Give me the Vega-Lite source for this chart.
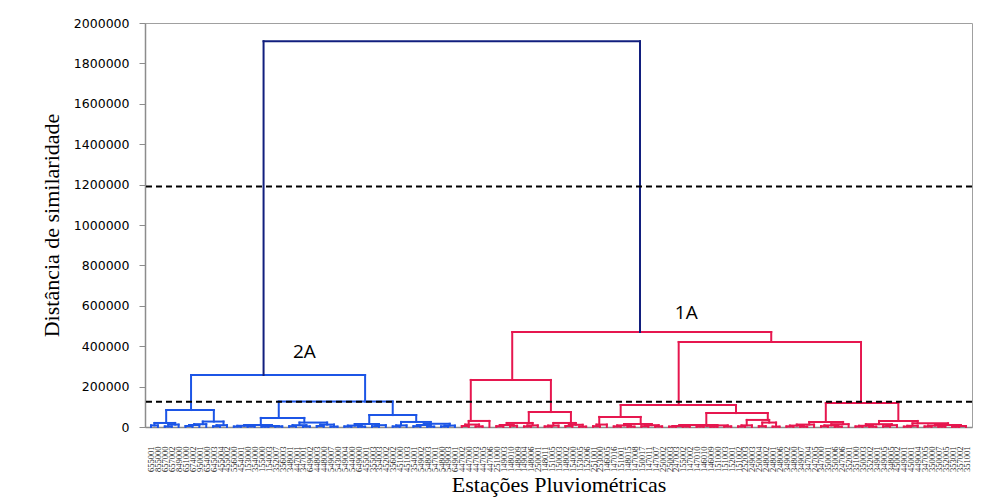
{
  "$schema": "https://vega.github.io/schema/vega-lite/v6.json",
  "width": 827,
  "height": 404,
  "autosize": {"type": "none"},
  "padding": {"left": 145, "top": 23, "right": 13, "bottom": 72},
  "background": "white",
  "config": {
    "view": {"stroke": "#a0a0a0", "strokeWidth": 1},
    "axis": {"grid": false},
    "axisY": {
      "labelFont": "DejaVu Sans", "labelFontSize": 12.5, "labelColor": "black",
      "labelPadding": 10, "tickSize": 6, "tickColor": "#8c8c8c", "domainColor": "#8c8c8c", "domainWidth": 1.5,
      "titleFont": "Liberation Serif", "titleFontSize": 22, "titleFontWeight": "normal",
      "titleColor": "black", "titlePadding": 10
    }
  },
  "datasets": {
    "leaves": [
      {"id": "655001"}, {"id": "855000"}, {"id": "657000"}, {"id": "657002"}, {"id": "849000"},
      {"id": "651000"}, {"id": "674002"}, {"id": "950001"}, {"id": "654000"}, {"id": "645003"},
      {"id": "455004"}, {"id": "455002"}, {"id": "556000"}, {"id": "454001"}, {"id": "153000"},
      {"id": "354000"}, {"id": "155000"}, {"id": "154003"}, {"id": "352007"}, {"id": "356003"},
      {"id": "348001"}, {"id": "447001"}, {"id": "347001"}, {"id": "649002"}, {"id": "448003"},
      {"id": "448000"}, {"id": "549007"}, {"id": "543000"}, {"id": "549004"}, {"id": "544000"},
      {"id": "649000"}, {"id": "455001"}, {"id": "355003"}, {"id": "354003"}, {"id": "452002"},
      {"id": "356002"}, {"id": "451000"}, {"id": "451003"}, {"id": "354001"}, {"id": "549002"},
      {"id": "548003"}, {"id": "547001"}, {"id": "548000"}, {"id": "549003"}, {"id": "649001"},
      {"id": "447002"}, {"id": "447000"}, {"id": "447003"}, {"id": "447005"}, {"id": "447006"},
      {"id": "251000"}, {"id": "149003"}, {"id": "148010"}, {"id": "148009"}, {"id": "149004"},
      {"id": "148006"}, {"id": "250001"}, {"id": "148011"}, {"id": "151005"}, {"id": "150003"},
      {"id": "148002"}, {"id": "154000"}, {"id": "153005"}, {"id": "152006"}, {"id": "251001"},
      {"id": "253000"}, {"id": "146005"}, {"id": "147016"}, {"id": "151001"}, {"id": "148015"},
      {"id": "147008"}, {"id": "150017"}, {"id": "147011"}, {"id": "147007"}, {"id": "250002"},
      {"id": "250003"}, {"id": "247003"}, {"id": "155002"}, {"id": "147002"}, {"id": "147010"},
      {"id": "146010"}, {"id": "146009"}, {"id": "151000"}, {"id": "151003"}, {"id": "152001"},
      {"id": "151002"}, {"id": "252003"}, {"id": "249003"}, {"id": "250004"}, {"id": "248002"},
      {"id": "248001"}, {"id": "248006"}, {"id": "349002"}, {"id": "348000"}, {"id": "349007"},
      {"id": "347004"}, {"id": "247005"}, {"id": "347000"}, {"id": "350001"}, {"id": "350006"},
      {"id": "247006"}, {"id": "352001"}, {"id": "351000"}, {"id": "350003"}, {"id": "352002"},
      {"id": "349001"}, {"id": "349005"}, {"id": "348005"}, {"id": "450002"}, {"id": "449001"},
      {"id": "450001"}, {"id": "449004"}, {"id": "347005"}, {"id": "350000"}, {"id": "350007"},
      {"id": "352005"}, {"id": "353001"}, {"id": "357002"}, {"id": "351001"}
    ],
    "merges": [
      {"g": "2A", "xl": 1, "xr": 2, "hl": 0, "hr": 0, "h": 8000},
      {"g": "2A", "xl": 3, "xr": 4, "hl": 0, "hr": 0, "h": 3000},
      {"g": "2A", "xl": 3.5, "xr": 5, "hl": 3000, "hr": 0, "h": 12000},
      {"g": "2A", "xl": 1.5, "xr": 4.5, "hl": 8000, "hr": 12000, "h": 20000},
      {"g": "2A", "xl": 6, "xr": 7, "hl": 0, "hr": 0, "h": 5000},
      {"g": "2A", "xl": 6.5, "xr": 8, "hl": 5000, "hr": 0, "h": 10000},
      {"g": "2A", "xl": 7.25, "xr": 9, "hl": 10000, "hr": 0, "h": 14000},
      {"g": "2A", "xl": 10, "xr": 11, "hl": 0, "hr": 0, "h": 4000},
      {"g": "2A", "xl": 10.5, "xr": 12, "hl": 4000, "hr": 0, "h": 9000},
      {"g": "2A", "xl": 8.5, "xr": 11.5, "hl": 14000, "hr": 9000, "h": 27000},
      {"g": "2A", "xl": 3.2, "xr": 10.1, "hl": 20000, "hr": 27000, "h": 84000},
      {"g": "2A", "xl": 13, "xr": 14, "hl": 0, "hr": 0, "h": 2500},
      {"g": "2A", "xl": 15, "xr": 16, "hl": 0, "hr": 0, "h": 3500},
      {"g": "2A", "xl": 13.5, "xr": 15.5, "hl": 2500, "hr": 3500, "h": 6000},
      {"g": "2A", "xl": 17, "xr": 18, "hl": 0, "hr": 0, "h": 2000},
      {"g": "2A", "xl": 19, "xr": 20, "hl": 0, "hr": 0, "h": 3000},
      {"g": "2A", "xl": 17.5, "xr": 19.5, "hl": 2000, "hr": 3000, "h": 5000},
      {"g": "2A", "xl": 14.5, "xr": 18.5, "hl": 6000, "hr": 5000, "h": 10000},
      {"g": "2A", "xl": 21, "xr": 22, "hl": 0, "hr": 0, "h": 4000},
      {"g": "2A", "xl": 23, "xr": 24, "hl": 0, "hr": 0, "h": 3000},
      {"g": "2A", "xl": 21.5, "xr": 23.5, "hl": 4000, "hr": 3000, "h": 9000},
      {"g": "2A", "xl": 25, "xr": 26, "hl": 0, "hr": 0, "h": 5000},
      {"g": "2A", "xl": 27, "xr": 28, "hl": 0, "hr": 0, "h": 2000},
      {"g": "2A", "xl": 25.5, "xr": 27.5, "hl": 5000, "hr": 2000, "h": 12000},
      {"g": "2A", "xl": 22.5, "xr": 26.5, "hl": 9000, "hr": 12000, "h": 22000},
      {"g": "2A", "xl": 16.9, "xr": 23.2, "hl": 10000, "hr": 22000, "h": 45000},
      {"g": "2A", "xl": 29, "xr": 30, "hl": 0, "hr": 0, "h": 3000},
      {"g": "2A", "xl": 31, "xr": 32, "hl": 0, "hr": 0, "h": 2000},
      {"g": "2A", "xl": 29.5, "xr": 31.5, "hl": 3000, "hr": 2000, "h": 7000},
      {"g": "2A", "xl": 33, "xr": 34, "hl": 0, "hr": 0, "h": 4000},
      {"g": "2A", "xl": 33.5, "xr": 35, "hl": 4000, "hr": 0, "h": 9000},
      {"g": "2A", "xl": 30.5, "xr": 34, "hl": 7000, "hr": 9000, "h": 15000},
      {"g": "2A", "xl": 36, "xr": 37, "hl": 0, "hr": 0, "h": 3000},
      {"g": "2A", "xl": 36.5, "xr": 38, "hl": 3000, "hr": 0, "h": 8000},
      {"g": "2A", "xl": 39, "xr": 40, "hl": 0, "hr": 0, "h": 4000},
      {"g": "2A", "xl": 41, "xr": 42, "hl": 0, "hr": 0, "h": 2000},
      {"g": "2A", "xl": 39.5, "xr": 41.5, "hl": 4000, "hr": 2000, "h": 10000},
      {"g": "2A", "xl": 43, "xr": 44, "hl": 0, "hr": 0, "h": 3000},
      {"g": "2A", "xl": 43.5, "xr": 45, "hl": 3000, "hr": 0, "h": 7000},
      {"g": "2A", "xl": 40.5, "xr": 44.25, "hl": 10000, "hr": 7000, "h": 16000},
      {"g": "2A", "xl": 37.2, "xr": 41.5, "hl": 8000, "hr": 16000, "h": 25000},
      {"g": "2A", "xl": 32.6, "xr": 39.4, "hl": 15000, "hr": 25000, "h": 59000},
      {"g": "2A", "xl": 19.5, "xr": 36, "hl": 45000, "hr": 59000, "h": 126000},
      {"g": "2A", "xl": 6.8, "xr": 32, "hl": 84000, "hr": 126000, "h": 257000},
      {"g": "1A", "xl": 46, "xr": 47, "hl": 0, "hr": 0, "h": 5000},
      {"g": "1A", "xl": 48, "xr": 49, "hl": 0, "hr": 0, "h": 3000},
      {"g": "1A", "xl": 46.5, "xr": 48.5, "hl": 5000, "hr": 3000, "h": 12000},
      {"g": "1A", "xl": 47, "xr": 50, "hl": 12000, "hr": 0, "h": 30000},
      {"g": "1A", "xl": 51, "xr": 52, "hl": 0, "hr": 0, "h": 4000},
      {"g": "1A", "xl": 53, "xr": 54, "hl": 0, "hr": 0, "h": 6000},
      {"g": "1A", "xl": 51.5, "xr": 53.5, "hl": 4000, "hr": 6000, "h": 10000},
      {"g": "1A", "xl": 55, "xr": 56, "hl": 0, "hr": 0, "h": 3000},
      {"g": "1A", "xl": 55.5, "xr": 57, "hl": 3000, "hr": 0, "h": 8000},
      {"g": "1A", "xl": 52.5, "xr": 56.25, "hl": 10000, "hr": 8000, "h": 20000},
      {"g": "1A", "xl": 58, "xr": 59, "hl": 0, "hr": 0, "h": 3000},
      {"g": "1A", "xl": 58.5, "xr": 60, "hl": 3000, "hr": 0, "h": 7000},
      {"g": "1A", "xl": 61, "xr": 62, "hl": 0, "hr": 0, "h": 5000},
      {"g": "1A", "xl": 63, "xr": 64, "hl": 0, "hr": 0, "h": 2000},
      {"g": "1A", "xl": 61.5, "xr": 63.5, "hl": 5000, "hr": 2000, "h": 11000},
      {"g": "1A", "xl": 59.25, "xr": 62.5, "hl": 7000, "hr": 11000, "h": 20000},
      {"g": "1A", "xl": 55.7, "xr": 61.8, "hl": 20000, "hr": 20000, "h": 74000},
      {"g": "1A", "xl": 47.3, "xr": 58.9, "hl": 30000, "hr": 74000, "h": 233000},
      {"g": "1A", "xl": 65, "xr": 66, "hl": 0, "hr": 0, "h": 4000},
      {"g": "1A", "xl": 65.5, "xr": 67, "hl": 4000, "hr": 0, "h": 12000},
      {"g": "1A", "xl": 68, "xr": 69, "hl": 0, "hr": 0, "h": 3000},
      {"g": "1A", "xl": 70, "xr": 71, "hl": 0, "hr": 0, "h": 2000},
      {"g": "1A", "xl": 68.5, "xr": 70.5, "hl": 3000, "hr": 2000, "h": 8000},
      {"g": "1A", "xl": 72, "xr": 73, "hl": 0, "hr": 0, "h": 4000},
      {"g": "1A", "xl": 74, "xr": 75, "hl": 0, "hr": 0, "h": 3000},
      {"g": "1A", "xl": 72.5, "xr": 74.5, "hl": 4000, "hr": 3000, "h": 9000},
      {"g": "1A", "xl": 69.5, "xr": 73.5, "hl": 8000, "hr": 9000, "h": 15000},
      {"g": "1A", "xl": 65.9, "xr": 71.9, "hl": 12000, "hr": 15000, "h": 50000},
      {"g": "1A", "xl": 76, "xr": 77, "hl": 0, "hr": 0, "h": 2000},
      {"g": "1A", "xl": 78, "xr": 79, "hl": 0, "hr": 0, "h": 3000},
      {"g": "1A", "xl": 76.5, "xr": 78.5, "hl": 2000, "hr": 3000, "h": 5000},
      {"g": "1A", "xl": 80, "xr": 81, "hl": 0, "hr": 0, "h": 2500},
      {"g": "1A", "xl": 82, "xr": 83, "hl": 0, "hr": 0, "h": 1500},
      {"g": "1A", "xl": 80.5, "xr": 82.5, "hl": 2500, "hr": 1500, "h": 6000},
      {"g": "1A", "xl": 84, "xr": 85, "hl": 0, "hr": 0, "h": 3000},
      {"g": "1A", "xl": 81.5, "xr": 84.5, "hl": 6000, "hr": 3000, "h": 8000},
      {"g": "1A", "xl": 77.5, "xr": 83, "hl": 5000, "hr": 8000, "h": 10000},
      {"g": "1A", "xl": 86, "xr": 87, "hl": 0, "hr": 0, "h": 3000},
      {"g": "1A", "xl": 86.5, "xr": 88, "hl": 3000, "hr": 0, "h": 8000},
      {"g": "1A", "xl": 89, "xr": 90, "hl": 0, "hr": 0, "h": 4000},
      {"g": "1A", "xl": 91, "xr": 92, "hl": 0, "hr": 0, "h": 2000},
      {"g": "1A", "xl": 89.5, "xr": 91.5, "hl": 4000, "hr": 2000, "h": 22000},
      {"g": "1A", "xl": 87.25, "xr": 90.5, "hl": 8000, "hr": 22000, "h": 35000},
      {"g": "1A", "xl": 81.4, "xr": 90.3, "hl": 10000, "hr": 35000, "h": 69000},
      {"g": "1A", "xl": 69, "xr": 85.7, "hl": 50000, "hr": 69000, "h": 109000},
      {"g": "1A", "xl": 93, "xr": 94, "hl": 0, "hr": 0, "h": 3000},
      {"g": "1A", "xl": 95, "xr": 96, "hl": 0, "hr": 0, "h": 2000},
      {"g": "1A", "xl": 93.5, "xr": 95.5, "hl": 3000, "hr": 2000, "h": 7000},
      {"g": "1A", "xl": 94.5, "xr": 97, "hl": 7000, "hr": 0, "h": 12000},
      {"g": "1A", "xl": 98, "xr": 99, "hl": 0, "hr": 0, "h": 4000},
      {"g": "1A", "xl": 100, "xr": 101, "hl": 0, "hr": 0, "h": 2000},
      {"g": "1A", "xl": 98.5, "xr": 100.5, "hl": 4000, "hr": 2000, "h": 8000},
      {"g": "1A", "xl": 99.5, "xr": 102, "hl": 8000, "hr": 0, "h": 14000},
      {"g": "1A", "xl": 96.3, "xr": 101.2, "hl": 12000, "hr": 14000, "h": 25000},
      {"g": "1A", "xl": 103, "xr": 104, "hl": 0, "hr": 0, "h": 3000},
      {"g": "1A", "xl": 105, "xr": 106, "hl": 0, "hr": 0, "h": 2000},
      {"g": "1A", "xl": 103.5, "xr": 105.5, "hl": 3000, "hr": 2000, "h": 6000},
      {"g": "1A", "xl": 107, "xr": 108, "hl": 0, "hr": 0, "h": 4000},
      {"g": "1A", "xl": 107.5, "xr": 109, "hl": 4000, "hr": 0, "h": 9000},
      {"g": "1A", "xl": 104.5, "xr": 108.25, "hl": 6000, "hr": 9000, "h": 14000},
      {"g": "1A", "xl": 110, "xr": 111, "hl": 0, "hr": 0, "h": 2000},
      {"g": "1A", "xl": 110.5, "xr": 112, "hl": 2000, "hr": 0, "h": 6000},
      {"g": "1A", "xl": 113, "xr": 114, "hl": 0, "hr": 0, "h": 3000},
      {"g": "1A", "xl": 115, "xr": 116, "hl": 0, "hr": 0, "h": 2000},
      {"g": "1A", "xl": 113.5, "xr": 115.5, "hl": 3000, "hr": 2000, "h": 7000},
      {"g": "1A", "xl": 117, "xr": 118, "hl": 0, "hr": 0, "h": 1500},
      {"g": "1A", "xl": 117.5, "xr": 119, "hl": 1500, "hr": 0, "h": 5000},
      {"g": "1A", "xl": 114.5, "xr": 118.25, "hl": 7000, "hr": 5000, "h": 10000},
      {"g": "1A", "xl": 111.25, "xr": 116.4, "hl": 6000, "hr": 10000, "h": 18000},
      {"g": "1A", "xl": 106.4, "xr": 112, "hl": 14000, "hr": 18000, "h": 30000},
      {"g": "1A", "xl": 98.7, "xr": 109.2, "hl": 25000, "hr": 30000, "h": 119000},
      {"g": "1A", "xl": 77.4, "xr": 103.8, "hl": 109000, "hr": 119000, "h": 421000},
      {"g": "1A", "xl": 53.3, "xr": 90.8, "hl": 233000, "hr": 421000, "h": 470000},
      {"g": "root", "xl": 17.3, "xr": 71.8, "hl": 257000, "hr": 470000, "h": 1910000}
    ],
    "cuts": [{"t": 1190000}, {"t": 125000}],
    "groups": [
      {"t": "2A", "x": 23.2, "y": 371000},
      {"t": "1A", "x": 78.5, "y": 563000}
    ]
  },
  "layer": [
    {
      "data": {"name": "leaves"},
      "mark": {"type": "point", "opacity": 0},
      "encoding": {
        "x": {
          "field": "id", "type": "ordinal", "sort": null,
          "scale": {"type": "point", "padding": 0.866},
          "axis": {
            "title": "Estações Pluviométricas",
            "labelAngle": -90, "labelFont": "Liberation Serif", "labelFontSize": 8.5,
            "labelColor": "#222222", "labelPadding": 19, "labelOverlap": false, "labelBound": false,
            "ticks": false, "domainColor": "#8c8c8c", "domainWidth": 1.5,
            "titleFont": "Liberation Serif", "titleFontSize": 22, "titleFontWeight": "normal",
            "titleColor": "black", "titlePadding": 3
          }
        },
        "y": {
          "datum": 0, "type": "quantitative",
          "scale": {"domain": [0, 2000000], "nice": false},
          "title": "Distância de similaridade",
          "axis": {"values": [0, 200000, 400000, 600000, 800000, 1000000, 1200000, 1400000, 1600000, 1800000, 2000000], "format": "d"}
        }
      }
    },
    {
      "layer": [
        {
          "data": {"name": "merges"},
          "mark": {"type": "rule", "strokeWidth": 2, "strokeCap": "square"},
          "encoding": {
            "x": {"field": "xl", "type": "quantitative", "scale": {"domain": [0.134, 119.866], "nice": false, "zero": false}, "axis": null},
            "x2": {"field": "xr"},
            "y": {"field": "h", "type": "quantitative", "title": "Distância de similaridade",
                  "axis": {"values": [0, 200000, 400000, 600000, 800000, 1000000, 1200000, 1400000, 1600000, 1800000, 2000000], "format": "d"}},
            "color": {"field": "g", "type": "nominal", "scale": {"domain": ["root", "2A", "1A"], "range": ["#121f7e", "#1c55e6", "#e6174f"]}, "legend": null}
          }
        },
        {
          "data": {"name": "merges"},
          "mark": {"type": "rule", "strokeWidth": 2, "strokeCap": "square"},
          "encoding": {
            "x": {"field": "xl", "type": "quantitative", "axis": null},
            "y": {"field": "hl", "type": "quantitative", "title": "Distância de similaridade",
                  "axis": {"values": [0, 200000, 400000, 600000, 800000, 1000000, 1200000, 1400000, 1600000, 1800000, 2000000], "format": "d"}},
            "y2": {"field": "h"},
            "color": {"field": "g", "type": "nominal", "legend": null}
          }
        },
        {
          "data": {"name": "merges"},
          "mark": {"type": "rule", "strokeWidth": 2, "strokeCap": "square"},
          "encoding": {
            "x": {"field": "xr", "type": "quantitative", "axis": null},
            "y": {"field": "hr", "type": "quantitative", "title": "Distância de similaridade",
                  "axis": {"values": [0, 200000, 400000, 600000, 800000, 1000000, 1200000, 1400000, 1600000, 1800000, 2000000], "format": "d"}},
            "y2": {"field": "h"},
            "color": {"field": "g", "type": "nominal", "legend": null}
          }
        },
        {
          "data": {"name": "groups"},
          "mark": {"type": "text", "font": "Open Sans", "fontSize": 19, "color": "black", "align": "center", "baseline": "middle"},
          "encoding": {
            "x": {"field": "x", "type": "quantitative", "axis": null},
            "y": {"field": "y", "type": "quantitative", "title": "Distância de similaridade",
                  "axis": {"values": [0, 200000, 400000, 600000, 800000, 1000000, 1200000, 1400000, 1600000, 1800000, 2000000], "format": "d"}},
            "text": {"field": "t"}
          }
        },
        {
          "data": {"name": "cuts"},
          "mark": {"type": "rule", "strokeWidth": 2, "strokeDash": [6, 4], "color": "black"},
          "encoding": {
            "y": {"field": "t", "type": "quantitative", "title": "Distância de similaridade",
                  "axis": {"values": [0, 200000, 400000, 600000, 800000, 1000000, 1200000, 1400000, 1600000, 1800000, 2000000], "format": "d"}}
          }
        }
      ]
    }
  ],
  "resolve": {"scale": {"x": "independent"}}
}
